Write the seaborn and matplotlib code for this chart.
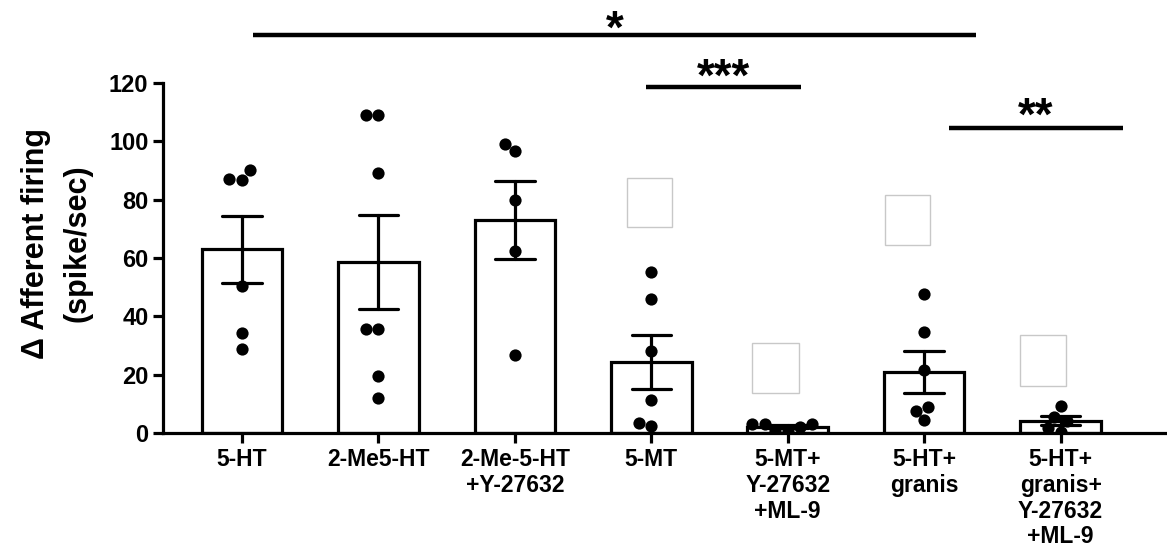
import matplotlib
matplotlib.use('Agg')

import numpy as np
import pandas as pd
import matplotlib.pyplot as plt
from matplotlib.patches import Rectangle
import seaborn as sns

# groups on the x axis
groups = ['5-HT', '2-Me5-HT', '2-Me-5-HT\n+Y-27632', '5-MT',
          '5-MT+\nY-27632\n+ML-9', '5-HT+\ngranis',
          '5-HT+\ngranis+\nY-27632\n+ML-9']

# individual recordings (spike/sec)
ht5 = [87.1, 86.9, 90.3, 50.3, 34.3, 28.8]
me2_ht5 = [109.1, 109.1, 89.1, 35.8, 35.8, 19.7, 12.0]
me2_ht5_y = [99.2, 96.6, 79.8, 62.3, 26.9]
mt5 = [55.2, 45.9, 28.0, 11.2, 2.3, 3.4]
mt5_y_ml9 = [3.1, 2.0, 0.6, 0.6, 3.1, 3.1]
ht5_granis = [47.8, 34.7, 21.7, 8.8, 7.7, 4.6]
ht5_granis_y_ml9 = [9.2, 5.5, 4.2, 1.8, 0.5]

all_vals = [ht5, me2_ht5, me2_ht5_y, mt5, mt5_y_ml9, ht5_granis, ht5_granis_y_ml9]

df = pd.DataFrame({
    'group': [g for g, v in zip(groups, all_vals) for _ in v],
    'value': [x for v in all_vals for x in v],
})

# significance brackets: (start, end, height, label)
sig = [(0.08, 5.38, 136.5, '*'),
       (2.96, 4.10, 118.7, '***'),
       (5.18, 6.46, 104.6, '**')]

sns.set_style('ticks')
plt.rcParams['font.family'] = ['Liberation Sans', 'DejaVu Sans']
plt.rcParams['font.weight'] = 'bold'
for k in ['text.color', 'axes.labelcolor', 'xtick.color', 'ytick.color',
          'axes.edgecolor']:
    plt.rcParams[k] = 'black'

fig = plt.figure(figsize=(11.67, 5.55), dpi=100)
ax = fig.add_axes([0.1397, 0.2198, 0.8603, 0.6306])

lw = 2.3
sns.barplot(data=df, x='group', y='value', order=groups, errorbar='se',
            capsize=0.29, width=0.59, color='white', edgecolor='black',
            linewidth=lw, err_kws={'color': 'black', 'linewidth': lw}, ax=ax)
sns.swarmplot(data=df, x='group', y='value', order=groups, color='black',
              size=8.8, ax=ax, zorder=5)

# faint empty boxes in the original figure
for x0, x1, y0, y1 in [(2.82, 3.15, 70.7, 87.5), (3.74, 4.08, 13.8, 31.0),
                       (4.71, 5.04, 64.6, 81.7), (5.70, 6.04, 16.2, 33.7)]:
    ax.add_patch(Rectangle((x0, y0), x1 - x0, y1 - y0, fill=False,
                           edgecolor='#c8c8c8', linewidth=1, zorder=1))

for (x0, x1, y, lab), dy in zip(sig, [-2.8, -1.2, -0.6]):
    ax.plot([x0, x1], [y, y], color='black', linewidth=3.2, clip_on=False,
            solid_capstyle='butt')
    ax.text((x0 + x1) / 2, y + dy, lab, ha='center', va='baseline',
            fontsize=33, fontweight='bold', clip_on=False)

ax.set_xlim(-0.579, 6.78)
ax.set_ylim(0, 120)
ax.set_yticks(np.arange(0, 121, 20))
ax.set_xlabel('')
ax.set_ylabel('\u0394 Afferent firing\n(spike/sec)', fontsize=22,
              fontweight='bold', linespacing=1.5)
ax.yaxis.set_label_coords(-0.0707, 0.541)

sns.despine(ax=ax)
for s in ['left', 'bottom']:
    ax.spines[s].set_linewidth(lw)
ax.tick_params(axis='y', width=lw, length=7.5, labelsize=17, pad=3)
ax.tick_params(axis='x', width=lw, length=7, labelsize=16.5, pad=4)
for t in ax.get_xticklabels() + ax.get_yticklabels():
    t.set_fontweight('bold')
for t in ax.get_xticklabels():
    t.set_linespacing(1.15)

fig.savefig('out.png', dpi=100)
